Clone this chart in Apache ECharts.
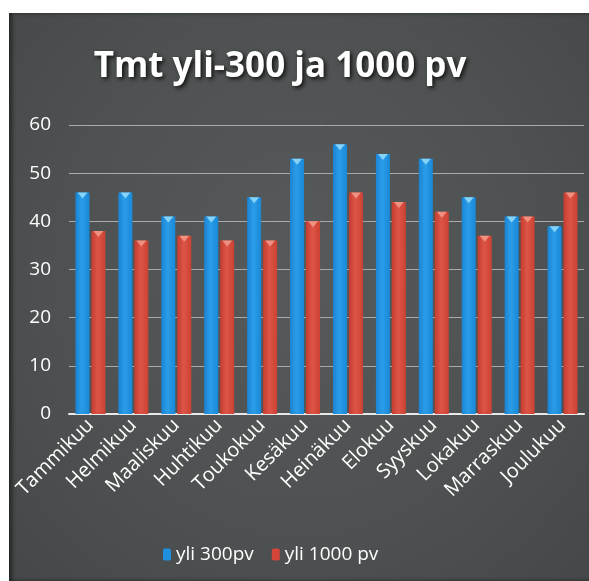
<!DOCTYPE html>
<html><head><meta charset="utf-8">
<script src="https://cdn.jsdelivr.net/npm/echarts@6/dist/echarts.min.js"></script>
<style>
html,body{margin:0;padding:0;background:#ffffff;width:589px;height:581px;overflow:hidden}
#panel{position:absolute;left:9px;top:13px;width:580px;height:568px;background:radial-gradient(ellipse at 50% 45%,#575a5a 0%,#4e5151 60%,#454848 100%);box-shadow:inset 3px 0 4px rgba(0,0,0,0.5)}
#c{position:absolute;left:0;top:0;width:589px;height:581px}
</style></head>
<body><div id="panel"></div><div id="c"></div>
<script>
const categories = ['Tammikuu','Helmikuu','Maaliskuu','Huhtikuu','Toukokuu','Kesäkuu','Heinäkuu','Elokuu','Syyskuu','Lokakuu','Marraskuu','Joulukuu'];
const yli300 = [46,46,41,41,45,53,56,54,53,45,41,39];
const yli1000 = [38,36,37,36,36,40,46,44,42,37,41,46];
const seriesNames = ['yli 300pv','yli 1000 pv'];
const yTicks = {min:0,max:60,interval:10};

const chart = echarts.init(document.getElementById('c'),null,{renderer:'canvas'});
function grad(dark,mid,light){
  return new echarts.graphic.LinearGradient(0,0,1,0,[
    {offset:0,color:dark},{offset:0.45,color:light},{offset:1,color:mid}]);
}
const blueG = grad('#1a84d4','#1a88d8','#2a9de8');
const redG = grad('#c53c31','#cb4233','#dd5546');
const common = {barWidth:14,barGap:'14%',barCategoryGap:'30%'};
chart.setOption({
  backgroundColor:'transparent',
  animation:false,
  title:{text:'Tmt yli-300 ja 1000 pv',left:275,textAlign:'center',top:45,
    textStyle:{color:'#ffffff',fontFamily:'Open Sans',fontWeight:'bold',fontSize:35,
      textShadowColor:'rgba(0,0,0,0.8)',textShadowBlur:4,textShadowOffsetX:2,textShadowOffsetY:2}},
  legend:{bottom:12,left:158,itemWidth:8,itemHeight:12,itemGap:18,
    textStyle:{color:'#ffffff',fontFamily:'Open Sans',fontSize:19},
    data:[{name:seriesNames[0],itemStyle:{color:'#1f8fe0'}},{name:seriesNames[1],itemStyle:{color:'#d5453a'}}]},
  grid:{left:69,right:5,top:125,bottom:167},
  xAxis:{type:'category',data:categories,
    axisLine:{lineStyle:{color:'#e8e8e8',width:2}},axisTick:{show:false},
    axisLabel:{color:'#ffffff',rotate:45,fontFamily:'Open Sans',fontSize:20,margin:8,interval:0}},
  yAxis:{type:'value',min:yTicks.min,max:yTicks.max,interval:yTicks.interval,
    axisLine:{show:false},axisTick:{show:false},
    axisLabel:{color:'#ffffff',fontFamily:'Open Sans',fontSize:19,margin:18},
    splitLine:{lineStyle:{color:'#a9abab',width:1}}},
  series:[
    Object.assign({name:seriesNames[0],type:'bar',data:yli300,itemStyle:{color:blueG}},common),
    Object.assign({name:seriesNames[1],type:'bar',data:yli1000,itemStyle:{color:redG}},common),
    Object.assign({name:seriesNames[0]+' top',type:'pictorialBar',data:yli300,symbol:'triangle',symbolRotate:180,
      symbolPosition:'end',symbolSize:[10,6],symbolOffset:[0,0],itemStyle:{color:'#86d3fa'},z:5,legendHoverLink:false},common),
    Object.assign({name:seriesNames[1]+' top',type:'pictorialBar',data:yli1000,symbol:'triangle',symbolRotate:180,
      symbolPosition:'end',symbolSize:[10,6],symbolOffset:[0,0],itemStyle:{color:'#f09080'},z:5,legendHoverLink:false},common)
  ]
});
</script></body></html>
